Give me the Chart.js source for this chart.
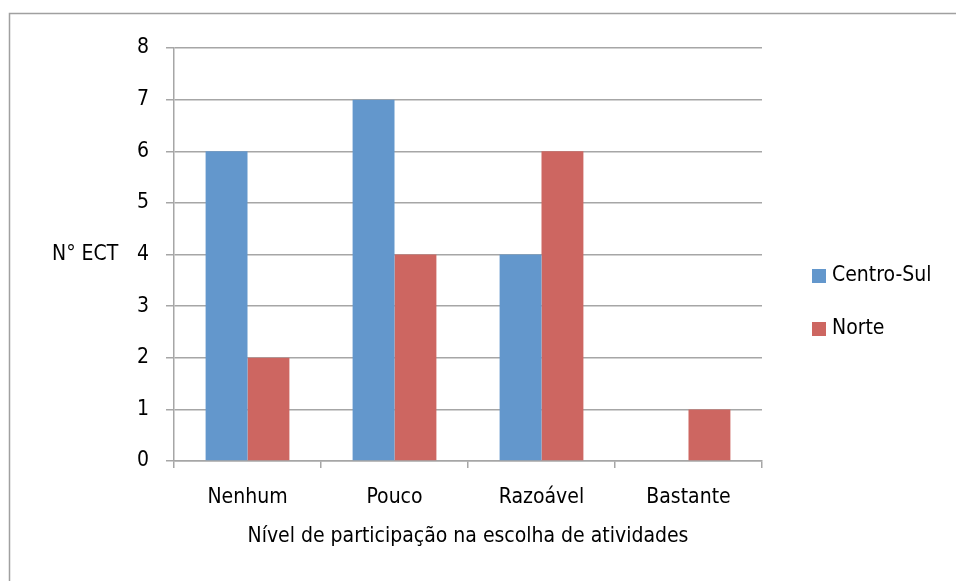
<!DOCTYPE html>
<html>
<head>
<meta charset="utf-8">
<style>
  html, body { margin: 0; padding: 0; background: #fff; }
  #wrap { position: relative; width: 956px; height: 581px; }
</style>
<script src="https://cdn.jsdelivr.net/npm/chart.js@4.4.1/dist/chart.umd.min.js"></script>
</head>
<body>
<div id="wrap"><canvas id="c" width="956" height="581"></canvas></div>
<script>
// Participation level in choosing activities, by region
const categories = ['Nenhum', 'Pouco', 'Razoável', 'Bastante'];
const centroSul = [6, 7, 4, 0];
const norte = [2, 4, 6, 1];
const seriesNames = ['Centro-Sul', 'Norte'];
const yTicks = [0, 1, 2, 3, 4, 5, 6, 7, 8];
const xTitle = 'Nível de participação na escolha de atividades';
const yTitle = 'N° ECT';

const FONT = '"Liberation Sans Narrow", "DejaVu Sans Condensed", "Liberation Sans", sans-serif';
const FSIZE = 21;
const GRID = '#a6a6a6';
const COLORS = ['#6397cc', '#cd6661'];

// Frame, vertical axis caption and legend drawn around the plot
const decor = {
  id: 'decor',
  beforeDraw(chart) {
    const ctx = chart.ctx;
    ctx.save();
    ctx.fillStyle = '#fff';
    ctx.fillRect(0, 0, chart.width, chart.height);
    ctx.strokeStyle = '#a0a0a0';
    ctx.lineWidth = 1.5;
    ctx.strokeRect(9.5, 13.5, chart.width + 20, chart.height + 20);
    ctx.restore();
  },
  afterDraw(chart) {
    const ctx = chart.ctx;
    const area = chart.chartArea;
    ctx.save();
    ctx.fillStyle = '#000';
    ctx.font = FSIZE + 'px ' + FONT;
    ctx.textBaseline = 'middle';
    ctx.textAlign = 'left';
    ctx.fillText(yTitle, 52, (area.top + area.bottom) / 2);

    // legend
    const items = chart.data.datasets;
    const y0 = 276, step = 53;
    items.forEach((ds, i) => {
      const y = y0 + i * step;
      ctx.fillStyle = ds.backgroundColor;
      ctx.fillRect(812, y - 7, 14, 14);
      ctx.fillStyle = '#000';
      ctx.fillText(ds.label, 832, y);
    });
    ctx.restore();
  }
};

new Chart(document.getElementById('c'), {
  type: 'bar',
  data: {
    labels: categories,
    datasets: [
      { label: seriesNames[0], data: centroSul, backgroundColor: COLORS[0] },
      { label: seriesNames[1], data: norte, backgroundColor: COLORS[1] }
    ]
  },
  options: {
    responsive: false,
    animation: false,
    devicePixelRatio: 1,
    layout: { padding: { top: 48, right: 194, bottom: 32, left: 0 } },
    datasets: { bar: { categoryPercentage: 0.57, barPercentage: 1.0 } },
    plugins: { legend: { display: false }, tooltip: { enabled: false } },
    scales: {
      x: {
        offset: true,
        afterFit(scale) { scale.height = 88; },
        grid: { display: true, drawOnChartArea: false, drawTicks: true, tickLength: 7, color: GRID, lineWidth: 1.5, offset: true },
        border: { display: true, color: GRID, width: 1.5 },
        ticks: { color: '#000', font: { family: FONT, size: FSIZE }, padding: 17 },
        title: { display: true, text: xTitle, color: '#000', font: { family: FONT, size: FSIZE }, padding: { top: 17, bottom: 0 } }
      },
      y: {
        min: 0, max: 8,
        afterFit(scale) { scale.width = 174; },
        afterBuildTicks(scale) { scale.ticks = yTicks.map(v => ({ value: v })); },
        grid: { color: GRID, lineWidth: 1.5, tickLength: 8 },
        border: { display: true, color: GRID, width: 1.5 },
        ticks: { color: '#000', font: { family: FONT, size: FSIZE }, padding: 17 }
      }
    }
  },
  plugins: [decor]
});
</script>
</body>
</html>
